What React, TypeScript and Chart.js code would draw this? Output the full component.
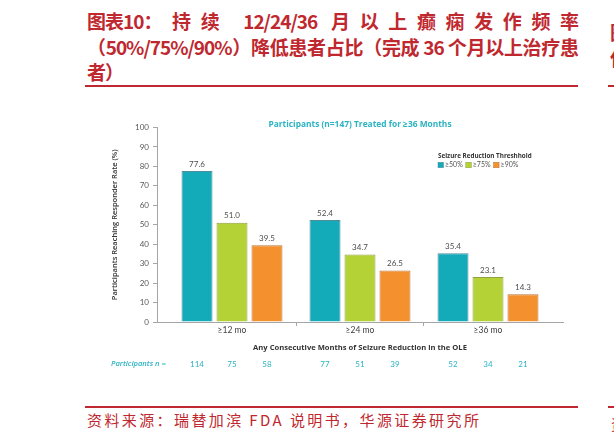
import React, { useEffect, useRef } from 'react';
import Chart from 'chart.js/auto';

const categories = ['≥12 mo', '≥24 mo', '≥36 mo'];
const thresholds = ['≥50%', '≥75%', '≥90%'];
const rate50 = [77.6, 52.4, 35.4];
const rate75 = [51.0, 34.7, 23.1];
const rate90 = [39.5, 26.5, 14.3];
const count50 = [114, 77, 52];
const count75 = [75, 51, 34];
const count90 = [58, 39, 21];

const RED = '#c0282f';
const TEAL = '#2bb3c2';
const AXIS = '#a6a6a6';
const FONT = 'Lato, "DejaVu Sans", sans-serif';
const BOLD = '"Open Sans", "DejaVu Sans", sans-serif';
const barColors = ['#13aaba', '#b4d236', '#f5902f'];
const edgeColors = ['#4f8e98', '#8ea23f', '#b9783c'];

const overlay = {
    id: 'overlay',
    afterDatasetsDraw(chart: any) {
        const { ctx, chartArea } = chart;
        const counts = [count50, count75, count90];
        ctx.save();
        ctx.textAlign = 'center';
        ctx.textBaseline = 'middle';

        // value above each bar, participant count under the axis
        chart.data.datasets.forEach((ds: any, di: number) => {
            chart.getDatasetMeta(di).data.forEach((bar: any, i: number) => {
                ctx.font = `8px ${FONT}`;
                ctx.fillStyle = '#4d4d4d';
                ctx.fillText(ds.data[i].y.toFixed(1), bar.x, bar.y - 7);
                ctx.fillStyle = TEAL;
                ctx.fillText(String(counts[di][i]), bar.x, chartArea.bottom + 42);
            });
        });

        ctx.textAlign = 'left';
        ctx.font = `italic 600 7.6px ${BOLD}`;
        ctx.fillStyle = TEAL;
        ctx.fillText('Participants n =', 21, chartArea.bottom + 42);

        // chart title
        ctx.textAlign = 'center';
        ctx.font = `bold 8.4px ${BOLD}`;
        ctx.fillStyle = TEAL;
        ctx.fillText('Participants (n=147) Treated for ≥36 Months', (chartArea.left + chartArea.right) / 2, chartArea.top - 2.5);

        // legend
        const lx = chartArea.left + 281;
        ctx.textAlign = 'left';
        ctx.font = `bold 6.3px ${BOLD}`;
        ctx.fillStyle = '#333';
        ctx.fillText('Seizure Reduction Threshhold', lx, chartArea.top + 28.5);
        ctx.font = `7px ${FONT}`;
        let x = lx;
        const y = chartArea.top + 37.5;
        chart.data.datasets.forEach((ds: any) => {
            ctx.fillStyle = ds.backgroundColor;
            ctx.fillRect(x, y - 2.75, 5.5, 5.5);
            ctx.strokeStyle = ds.borderColor;
            ctx.lineWidth = 0.5;
            ctx.strokeRect(x, y - 2.75, 5.5, 5.5);
            ctx.fillStyle = '#555';
            ctx.fillText(ds.label, x + 7, y);
            x += 7 + ctx.measureText(ds.label).width + 3;
        });
        ctx.restore();
    },
};

const ResponderChart: React.FC = () => {
    const canvasRef = useRef<HTMLCanvasElement>(null);
    const chartRef = useRef<Chart>();

    useEffect(() => {
        if (!canvasRef.current) return;
        const rates = [rate50, rate75, rate90];
        chartRef.current = new Chart(canvasRef.current, {
            type: 'bar',
            data: {
                datasets: thresholds.map((label, k) => ({
                    label,
                    data: rates[k].map((v, i) => ({ x: i, y: v })),
                    backgroundColor: barColors[k],
                    borderColor: edgeColors[k],
                    borderWidth: 1,
                    categoryPercentage: 0.82,
                    barPercentage: 0.886,
                })),
            },
            options: {
                animation: false,
                responsive: true,
                maintainAspectRatio: false,
                layout: { padding: { left: 0, right: 17, top: 17.5, bottom: 28 } },
                plugins: { legend: { display: false }, tooltip: { enabled: false } },
                scales: {
                    x: {
                        type: 'linear',
                        min: -0.586,
                        max: 2.586,
                        offset: false,
                        afterBuildTicks: (scale: any) => {
                            scale.ticks = categories.map((_, i) => ({ value: i }));
                        },
                        afterFit: (scale: any) => {
                            scale.height = 30;
                        },
                        ticks: {
                            autoSkip: false,
                            maxRotation: 0,
                            padding: -1,
                            color: '#404040',
                            font: { family: FONT, size: 8.5 },
                            callback: (_v: any, i: number) => categories[i],
                        },
                        grid: {
                            offset: true,
                            drawOnChartArea: false,
                            tickLength: 4,
                            tickColor: (c: any) => (c.index === 0 || c.index === undefined ? 'rgba(0,0,0,0)' : AXIS),
                        },
                        border: { color: AXIS },
                        title: {
                            display: true,
                            text: 'Any Consecutive Months of Seizure Reduction in the OLE',
                            color: '#333',
                            font: { family: BOLD, size: 7.6, weight: 'bold' },
                            padding: { top: 0, bottom: 0 },
                        },
                    },
                    y: {
                        min: 0,
                        max: 100,
                        afterFit: (scale: any) => {
                            scale.width = 67;
                        },
                        ticks: {
                            stepSize: 10,
                            padding: 4,
                            color: '#595959',
                            font: { family: FONT, size: 8 },
                        },
                        grid: { drawOnChartArea: false, tickLength: 4, color: AXIS },
                        border: { color: AXIS },
                        title: {
                            display: true,
                            text: 'Participants Reaching Responder Rate (%)',
                            color: '#333',
                            font: { family: BOLD, size: 7.5, weight: 600 },
                            padding: { top: 20, bottom: 0 },
                        },
                    },
                },
            },
            plugins: [overlay],
        });
        return () => {
            chartRef.current?.destroy();
        };
    }, []);

    return (
        <div style={{ position: 'absolute', left: 90, top: 110, width: 490, height: 270 }}>
            <canvas ref={canvasRef}></canvas>
        </div>
    );
};

const rule = (top: number, left: number, width: number) => (
    <div style={{ position: 'absolute', top, left, width, height: 2, background: RED }} />
);

export default function App() {
    const cjk = '"Noto Sans CJK SC", sans-serif';
    const line = { textAlign: 'justify' as const, textAlignLast: 'justify' as const, height: 25.5 };
    return (
        <div style={{ position: 'absolute', left: 0, top: 0, width: 614, height: 445, overflow: 'hidden', background: '#fff' }}>
            <div style={{ position: 'absolute', left: 87, top: 8, width: 491, fontFamily: cjk, fontSize: 19, fontWeight: 700, color: RED, lineHeight: '25.5px', letterSpacing: -1 }}>
                <div style={line}>
                    <span style={{ display: 'inline-block' }}>图表10：</span>持续 12/24/36 月以上癫痫发作频率
                </div>
                <div style={line}>（50%/75%/90%）降低患者占比（完成 36 个月以上治疗患</div>
                <div>者）</div>
            </div>
            <div style={{ position: 'absolute', left: 610, top: 19, fontFamily: cjk, fontSize: 19, fontWeight: 700, color: RED, lineHeight: '25.5px' }}>
                <div>图</div>
                <div>使</div>
            </div>
            {rule(85, 85, 493)}
            {rule(85, 608, 10)}
            <ResponderChart />
            {rule(406, 85, 493)}
            {rule(406, 608, 10)}
            <div style={{ position: 'absolute', left: 87, top: 410, fontFamily: cjk, fontSize: 15, color: RED, letterSpacing: 2.4, lineHeight: '20px', whiteSpace: 'nowrap' }}>
                资料来源：瑞替加滨 FDA 说明书，华源证券研究所
            </div>
            <div style={{ position: 'absolute', left: 611, top: 414, fontFamily: cjk, fontSize: 15, color: RED, lineHeight: '20px' }}>资</div>
        </div>
    );
}
